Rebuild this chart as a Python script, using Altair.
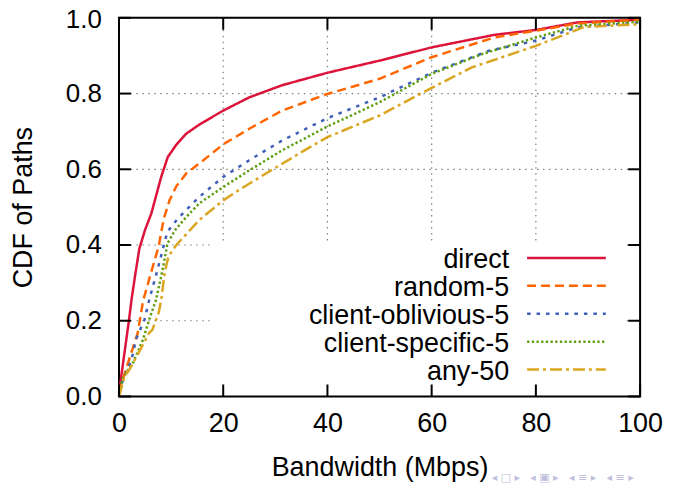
import altair as alt
import pandas as pd

series = ["direct", "random-5", "client-oblivious-5", "client-specific-5", "any-50"]
colors = ["#dc143c", "#ff6600", "#4060b8", "#5f9f10", "#daa520"]
dashes = [[1, 0], [9, 5], [3.5, 6], [2.3, 2.4], [12, 4, 3, 4]]

direct_x = [0, 0.3, 1, 1.9, 2.4, 3.1, 3.9, 5, 6.2, 8.1, 9.35, 11, 12.9, 15.4, 20, 25, 31.3, 40, 50, 60, 72, 80, 88, 100]
direct_y = [0, 0.04, 0.11, 0.2, 0.255, 0.32, 0.39, 0.44, 0.483, 0.58, 0.632, 0.665, 0.694, 0.718, 0.755, 0.79, 0.822, 0.855, 0.887, 0.922, 0.955, 0.968, 0.988, 0.995]

random_x = [0, 0.75, 2, 3.6, 4.6, 6, 7.6, 8.6, 9.7, 11, 12.9, 15.4, 20, 25, 31.3, 40, 50, 60, 72, 80, 88, 100]
random_y = [0.01, 0.045, 0.1, 0.168, 0.251, 0.32, 0.396, 0.47, 0.518, 0.555, 0.589, 0.615, 0.666, 0.707, 0.755, 0.799, 0.839, 0.896, 0.948, 0.966, 0.985, 0.995]

oblivious_x = [0, 0.6, 2.4, 3.3, 4.9, 5.8, 7.3, 8.7, 9.3, 11.3, 15.4, 20, 25, 31.3, 40, 50, 60, 71, 80, 88, 100]
oblivious_y = [0.01, 0.037, 0.097, 0.152, 0.203, 0.255, 0.33, 0.405, 0.435, 0.47, 0.527, 0.58, 0.624, 0.676, 0.735, 0.79, 0.855, 0.913, 0.94, 0.975, 0.988]

specific_x = [0, 0.75, 2.7, 4.6, 5.8, 7.1, 8.3, 9.3, 10.8, 12.9, 15.4, 20, 25, 31.3, 40, 50, 60, 69.6, 80, 88, 100]
specific_y = [0.01, 0.05, 0.089, 0.15, 0.203, 0.255, 0.33, 0.404, 0.44, 0.474, 0.51, 0.553, 0.597, 0.65, 0.713, 0.777, 0.852, 0.904, 0.948, 0.979, 0.99]

any_x = [0, 1.1, 2, 3.9, 5.8, 6.4, 7.6, 8.1, 8.8, 9.5, 11, 13, 15.4, 20, 23, 28.2, 34.5, 40, 50, 60, 67.7, 80, 89.3, 100]
any_y = [0, 0.053, 0.071, 0.119, 0.168, 0.176, 0.22, 0.255, 0.33, 0.37, 0.4, 0.43, 0.466, 0.518, 0.545, 0.589, 0.641, 0.685, 0.742, 0.815, 0.869, 0.926, 0.976, 0.983]

x_ticks = [0, 20, 40, 60, 80, 100]
y_ticks = [0.0, 0.2, 0.4, 0.6, 0.8, 1.0]
x_grid = [20, 40, 60, 80]
y_grid = [0.2, 0.4, 0.6, 0.8]
_s1 = "\u00a0"
_s3 = "\u00a0\u00a0\u00a0"
nav_groups = ["\u25c2" + _s1 + "\u25a1" + _s1 + "\u25b8",
              "\u25c2" + _s1 + "\u25a3" + _s1 + "\u25b8",
              "\u25c2" + _s1 + "\u2261" + _s1 + "\u25b8",
              "\u25c2" + _s1 + "\u2261" + _s1 + "\u25b8"]
nav_text = [_s3.join(nav_groups)]

W, H = 523, 380
FONT = "Liberation Sans"

rows = []
for name, xs, ys in zip(series,
                        [direct_x, random_x, oblivious_x, specific_x, any_x],
                        [direct_y, random_y, oblivious_y, specific_y, any_y]):
    for i, (a, b) in enumerate(zip(xs, ys)):
        rows.append({"series": name, "x": a, "y": b, "i": i})
curves = pd.DataFrame(rows)

xscale = alt.Scale(domain=[0, 100], nice=False, zero=False)
yscale = alt.Scale(domain=[0, 1], nice=False, zero=False)
xaxis = alt.Axis(values=x_ticks, format="d", title="Bandwidth (Mbps)", grid=False,
                 ticks=False, tickSize=0, domain=False, labelPadding=14,
                 labelFontSize=27, labelFont=FONT, labelColor="black", labelFlush=False,
                 titleFontSize=27, titleFont=FONT, titleFontWeight="normal",
                 titleColor="black", titleX=W / 2, titleY=79,
                 titleBaseline="alphabetic", titleAlign="center")
yaxis = alt.Axis(values=y_ticks, format=".1f", title="CDF of Paths", grid=False,
                 ticks=False, tickSize=0, domain=False, labelPadding=17.7,
                 labelFontSize=26, labelFont=FONT, labelColor="black", labelFlush=False,
                 labelOffset=alt.condition("datum.value == 1", alt.value(1.5), alt.value(0)),
                 titleFontSize=27, titleFont=FONT, titleFontWeight="normal",
                 titleColor="black", titleX=-87.4, titleY=190, titleAngle=270,
                 titleBaseline="alphabetic", titleAlign="center")
X = alt.X("x:Q", scale=xscale, axis=xaxis)
Y = alt.Y("y:Q", scale=yscale, axis=yaxis)
C = alt.Color("series:N", scale=alt.Scale(domain=series, range=colors), legend=None)
D = alt.StrokeDash("series:N", scale=alt.Scale(domain=series, range=dashes), legend=None)

gx = pd.DataFrame({"x": x_grid})
gy = pd.DataFrame({"y": y_grid})
tx = pd.DataFrame({"x": x_ticks})
ty = pd.DataFrame({"y": y_ticks})
one = pd.DataFrame({"a": [0]})

grid_style = dict(color="#808080", strokeWidth=1.2, strokeDash=[1.5, 4.5])
grid_x = alt.Chart(gx).mark_rule(**grid_style).encode(x=X)
grid_y = alt.Chart(gy).mark_rule(**grid_style).encode(y=Y)
box = alt.Chart(one).mark_rect(color="white").encode(
    x=alt.value(92.6), x2=alt.value(505.6), y=alt.value(227), y2=alt.value(376))
lines = alt.Chart(curves).mark_line(strokeWidth=2.5).encode(
    x=X, y=Y, color=C, strokeDash=D, order="i:Q")
tick_style = dict(color="black", strokeWidth=2)
ticks_b = alt.Chart(tx).mark_rule(**tick_style).encode(x=X, y=alt.value(H - 12), y2=alt.value(H))
ticks_t = alt.Chart(tx).mark_rule(**tick_style).encode(x=X, y=alt.value(0), y2=alt.value(12))
ticks_l = alt.Chart(ty).mark_rule(**tick_style).encode(y=Y, x=alt.value(0), x2=alt.value(12))
ticks_r = alt.Chart(ty).mark_rule(**tick_style).encode(y=Y, x=alt.value(W - 12), x2=alt.value(W))
nav = alt.Chart(pd.DataFrame({"t": nav_text})).mark_text(
    align="left", baseline="middle", fontSize=11, color="#c0c0dc", font="DejaVu Sans"
).encode(x=alt.value(374), y=alt.value(462), text="t:N")

main = alt.layer(grid_x, grid_y, box, lines, ticks_b, ticks_t, ticks_l, ticks_r, nav)

leg = pd.DataFrame({"series": series})
LY = alt.Y("series:N", scale=alt.Scale(type="point", domain=series, range=[241, 353], padding=0), axis=None)
leg_text = alt.Chart(leg).mark_text(align="right", baseline="alphabetic", dy=10,
                                    fontSize=27, font=FONT, color="black").encode(
    x=alt.value(391.6), y=LY, text="series:N")
leg_rule = alt.Chart(leg).mark_rule(strokeWidth=2.5).encode(
    x=alt.value(409.6), x2=alt.value(488.6), y=LY, color=C, strokeDash=D)
legend = alt.layer(leg_text, leg_rule)

chart = alt.layer(main, legend).resolve_scale(y="independent").properties(
    width=W, height=H,
    autosize=alt.AutoSizeParams(type="none"),
    padding={"left": 111.4, "top": 9, "right": 25, "bottom": 91},
).configure_view(stroke="black", strokeWidth=2)

chart.save("out.html", embed_options={"renderer": "svg", "actions": False})
